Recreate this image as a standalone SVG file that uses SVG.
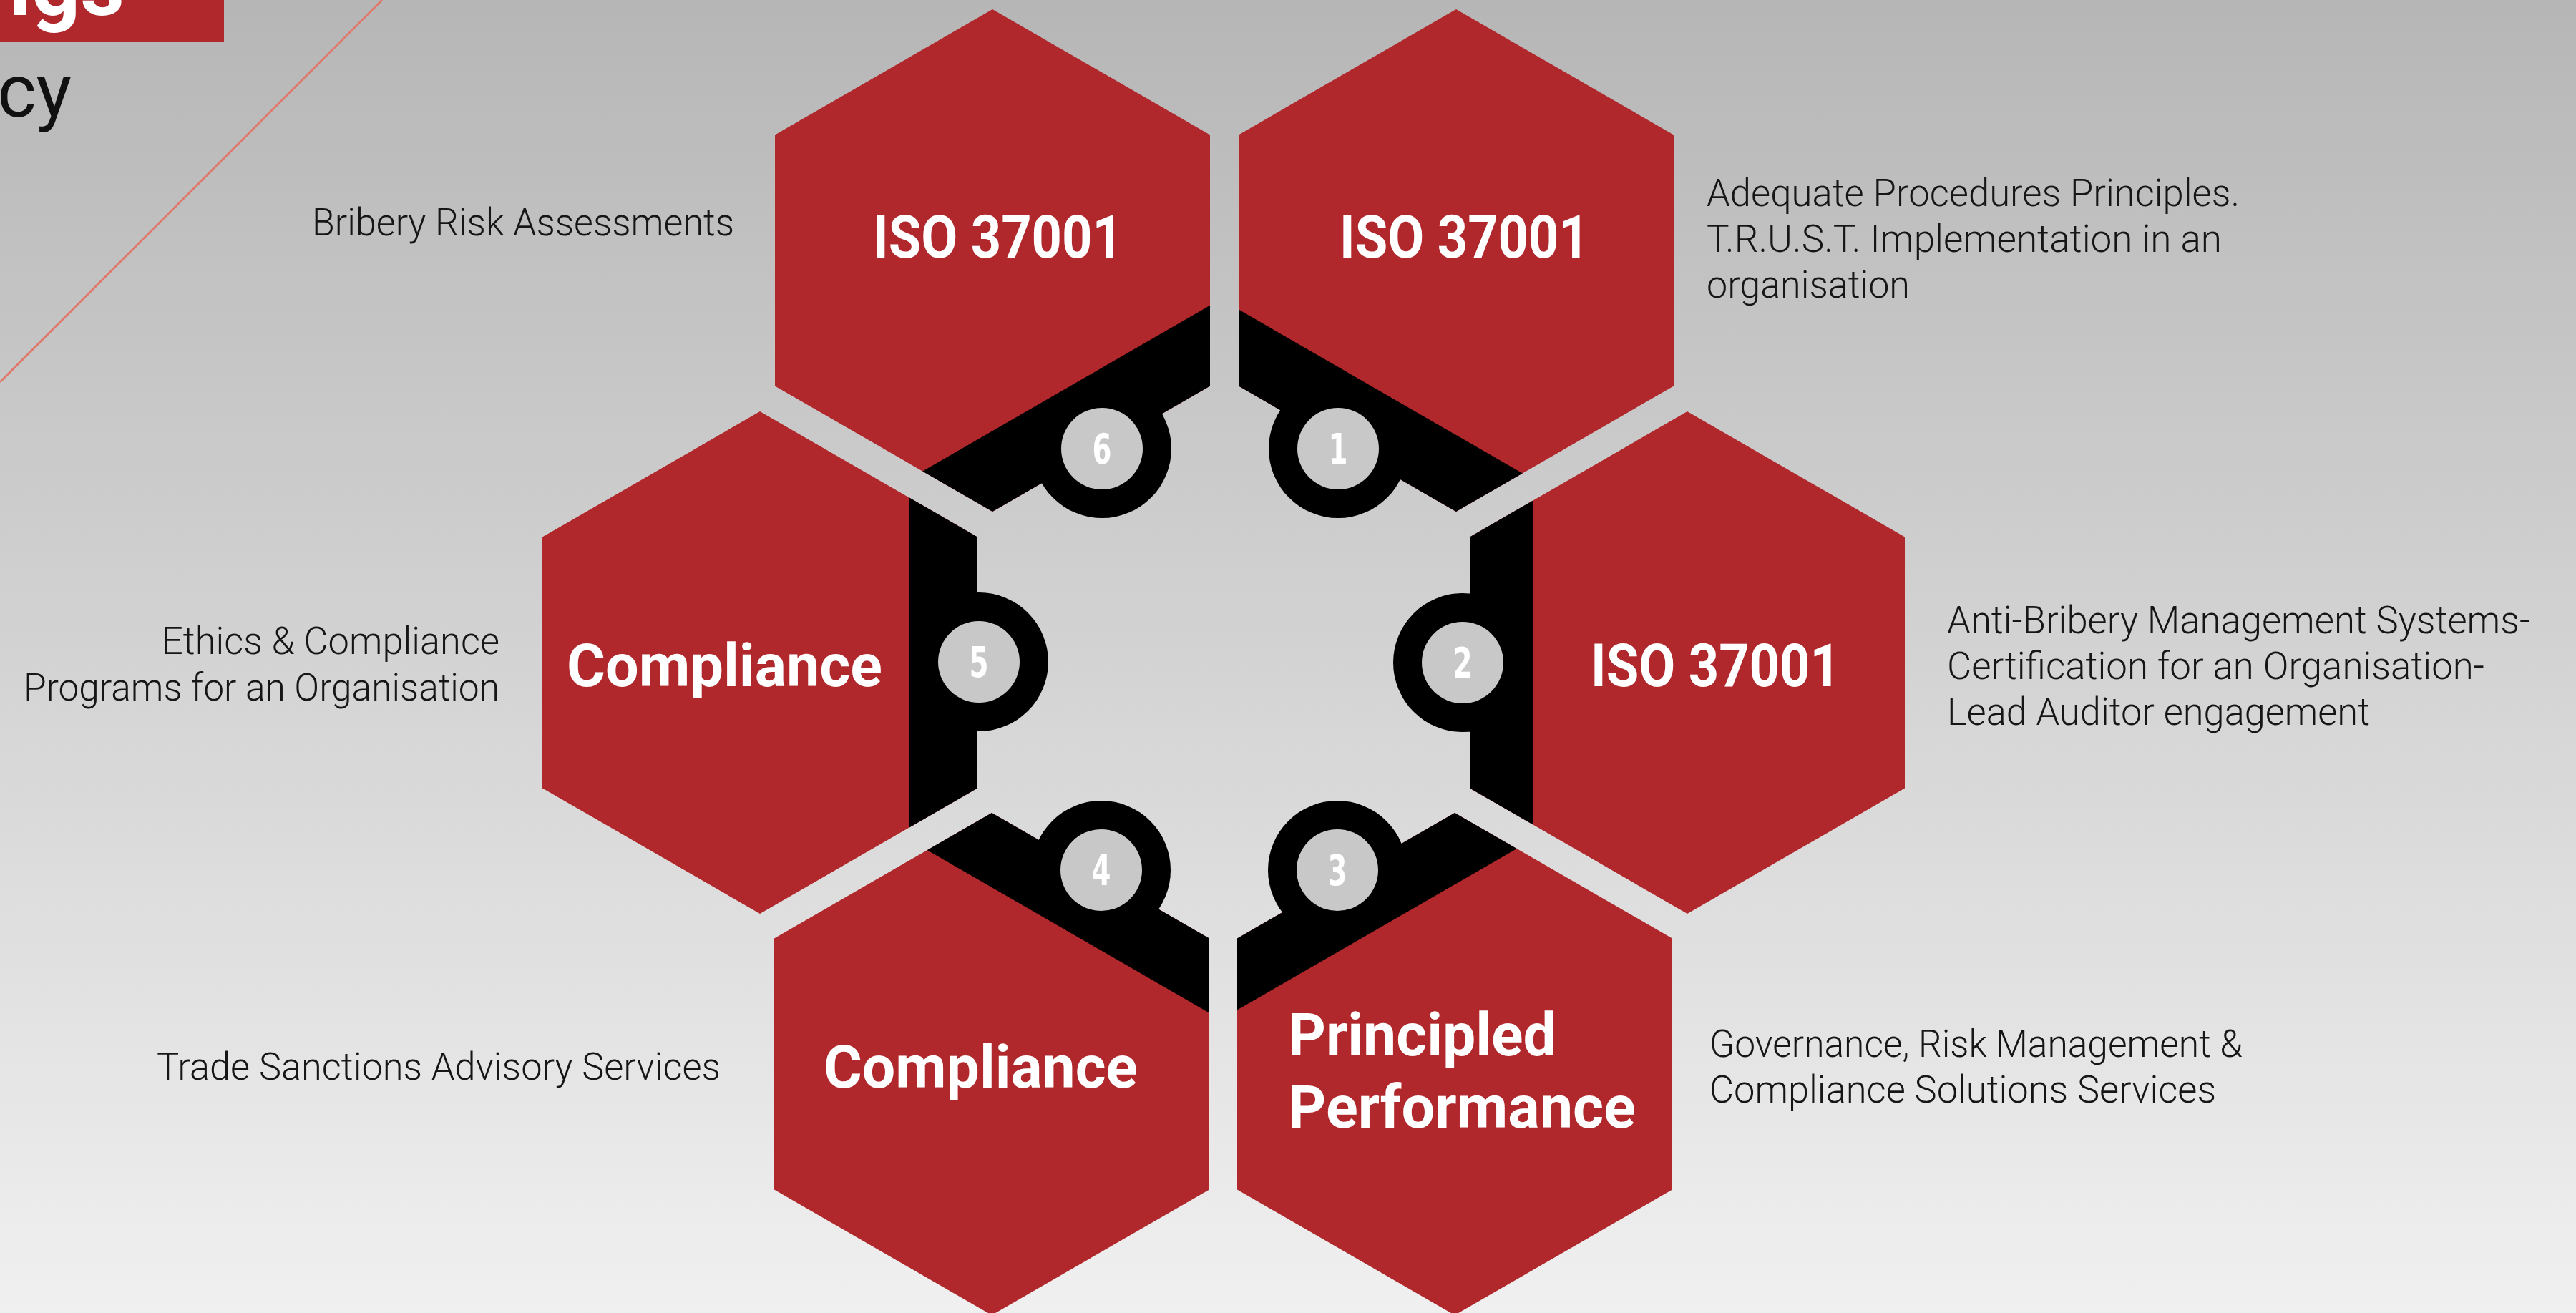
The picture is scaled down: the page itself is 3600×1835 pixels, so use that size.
<svg xmlns="http://www.w3.org/2000/svg" width="3600" height="1835" viewBox="0 0 3600 1835">
<defs>
<linearGradient id="bg" x1="0" y1="0" x2="0" y2="1">
<stop offset="0" stop-color="#b6b6b6"/>
<stop offset="1" stop-color="#f0f0f0"/>
</linearGradient>
<polygon id="band" points="1706,418.1 2142,669.8 2142,1173.2 1706,1424.9 1270,1173.2 1270,669.8"/>
<clipPath id="c6"><polygon points="1387,13 1691,188.5 1691,539.5 1387,715 1083,539.5 1083,188.5"/></clipPath>
<clipPath id="c1"><polygon points="2035,13 2339,188.5 2339,539.5 2035,715 1731,539.5 1731,188.5"/></clipPath>
<clipPath id="c5"><polygon points="1062,575 1366,750.5 1366,1101.5 1062,1277 758,1101.5 758,750.5"/></clipPath>
<clipPath id="c2"><polygon points="2358,575 2662,750.5 2662,1101.5 2358,1277 2054,1101.5 2054,750.5"/></clipPath>
<clipPath id="c4"><polygon points="1386,1136 1690,1311.5 1690,1662.5 1386,1838 1082,1662.5 1082,1311.5"/></clipPath>
<clipPath id="c3"><polygon points="2033,1136 2337,1311.5 2337,1662.5 2033,1838 1729,1662.5 1729,1311.5"/></clipPath>
</defs>
<style>
.hex{fill:#b0282c}
.blk{fill:#000}
.ring{fill:#000}
.dot{fill:#c8c8c8}
.num{fill:#fff;font-family:"Liberation Sans Narrow","DejaVu Sans Condensed","Liberation Sans",sans-serif;font-weight:700;font-size:58px;text-anchor:middle}
.lbl{fill:#fff;font-family:Roboto,"Liberation Sans",sans-serif;font-weight:700;font-size:84px}
.desc{fill:#161616;font-family:Roboto,"Liberation Sans",sans-serif;font-weight:300;font-size:54px}
</style>
<rect x="0" y="0" width="3600" height="1835" fill="url(#bg)"/>
<g id="title">
<line x1="534" y1="0" x2="0" y2="534" stroke="#e0786c" stroke-width="3"/>
<rect x="0" y="0" width="313" height="58" fill="#b0282c"/>
<text x="12" y="21" fill="#fff" font-family="Roboto, 'Liberation Sans', sans-serif" font-weight="700" font-size="120">igs</text>
<text x="100" y="163" fill="#111" font-family="Roboto, 'Liberation Sans', sans-serif" font-weight="400" font-size="104" text-anchor="end">cy</text>
</g>
<g id="connectors"></g>
<g id="node6">
<polygon class="hex" points="1387,13 1691,188.5 1691,539.5 1387,715 1083,539.5 1083,188.5"/>
<use href="#band" class="blk" clip-path="url(#c6)"/>
<circle class="ring" cx="1540" cy="627" r="97"/>
<circle class="dot" cx="1540" cy="627" r="57"/>
<text class="num" x="1540" y="648" textLength="27" lengthAdjust="spacingAndGlyphs">6</text>
<text class="lbl" x="1220" y="360" textLength="349" lengthAdjust="spacingAndGlyphs">ISO 37001</text>
<text class="desc" x="436" y="329" textLength="590" lengthAdjust="spacingAndGlyphs">Bribery Risk Assessments</text>
</g>
<g id="node1">
<polygon class="hex" points="2035,13 2339,188.5 2339,539.5 2035,715 1731,539.5 1731,188.5"/>
<use href="#band" class="blk" clip-path="url(#c1)"/>
<circle class="ring" cx="1870" cy="627" r="97"/>
<circle class="dot" cx="1870" cy="627" r="57"/>
<text class="num" x="1870" y="648" textLength="27" lengthAdjust="spacingAndGlyphs">1</text>
<text class="lbl" x="1872" y="360" textLength="349" lengthAdjust="spacingAndGlyphs">ISO 37001</text>
<text class="desc" x="2385" y="288" textLength="745" lengthAdjust="spacingAndGlyphs">Adequate Procedures Principles.</text>
<text class="desc" x="2385" y="352" textLength="720" lengthAdjust="spacingAndGlyphs">T.R.U.S.T. Implementation in an</text>
<text class="desc" x="2385" y="416" textLength="284" lengthAdjust="spacingAndGlyphs">organisation</text>
</g>
<g id="node5">
<polygon class="hex" points="1062,575 1366,750.5 1366,1101.5 1062,1277 758,1101.5 758,750.5"/>
<use href="#band" class="blk" clip-path="url(#c5)"/>
<circle class="ring" cx="1368" cy="925" r="97"/>
<circle class="dot" cx="1368" cy="925" r="57"/>
<text class="num" x="1368" y="946" textLength="27" lengthAdjust="spacingAndGlyphs">5</text>
<text class="lbl" x="792" y="959" textLength="441" lengthAdjust="spacingAndGlyphs">Compliance</text>
<text class="desc" x="226" y="914" textLength="472" lengthAdjust="spacingAndGlyphs">Ethics &amp; Compliance</text>
<text class="desc" x="33" y="979" textLength="665" lengthAdjust="spacingAndGlyphs">Programs for an Organisation</text>
</g>
<g id="node2">
<polygon class="hex" points="2358,575 2662,750.5 2662,1101.5 2358,1277 2054,1101.5 2054,750.5"/>
<use href="#band" class="blk" clip-path="url(#c2)"/>
<circle class="ring" cx="2044" cy="926" r="97"/>
<circle class="dot" cx="2044" cy="926" r="57"/>
<text class="num" x="2044" y="947" textLength="27" lengthAdjust="spacingAndGlyphs">2</text>
<text class="lbl" x="2223" y="959" textLength="349" lengthAdjust="spacingAndGlyphs">ISO 37001</text>
<text class="desc" x="2721" y="885" textLength="815" lengthAdjust="spacingAndGlyphs">Anti-Bribery Management Systems-</text>
<text class="desc" x="2721" y="949" textLength="751" lengthAdjust="spacingAndGlyphs">Certification for an Organisation-</text>
<text class="desc" x="2721" y="1013" textLength="591" lengthAdjust="spacingAndGlyphs">Lead Auditor engagement</text>
</g>
<g id="node4">
<polygon class="hex" points="1386,1136 1690,1311.5 1690,1662.5 1386,1838 1082,1662.5 1082,1311.5"/>
<use href="#band" class="blk" clip-path="url(#c4)"/>
<circle class="ring" cx="1539" cy="1216" r="97"/>
<circle class="dot" cx="1539" cy="1216" r="57"/>
<text class="num" x="1539" y="1237" textLength="27" lengthAdjust="spacingAndGlyphs">4</text>
<text class="lbl" x="1151" y="1520" textLength="439" lengthAdjust="spacingAndGlyphs">Compliance</text>
<text class="desc" x="219" y="1509" textLength="788" lengthAdjust="spacingAndGlyphs">Trade Sanctions Advisory Services</text>
</g>
<g id="node3">
<polygon class="hex" points="2033,1136 2337,1311.5 2337,1662.5 2033,1838 1729,1662.5 1729,1311.5"/>
<use href="#band" class="blk" clip-path="url(#c3)"/>
<circle class="ring" cx="1869" cy="1216" r="97"/>
<circle class="dot" cx="1869" cy="1216" r="57"/>
<text class="num" x="1869" y="1237" textLength="27" lengthAdjust="spacingAndGlyphs">3</text>
<text class="lbl" x="1800" y="1475" textLength="375" lengthAdjust="spacingAndGlyphs">Principled</text>
<text class="lbl" x="1800" y="1576" textLength="486" lengthAdjust="spacingAndGlyphs">Performance</text>
<text class="desc" x="2389" y="1477" textLength="745" lengthAdjust="spacingAndGlyphs">Governance, Risk Management &amp;</text>
<text class="desc" x="2389" y="1541" textLength="708" lengthAdjust="spacingAndGlyphs">Compliance Solutions Services</text>
</g>
</svg>
